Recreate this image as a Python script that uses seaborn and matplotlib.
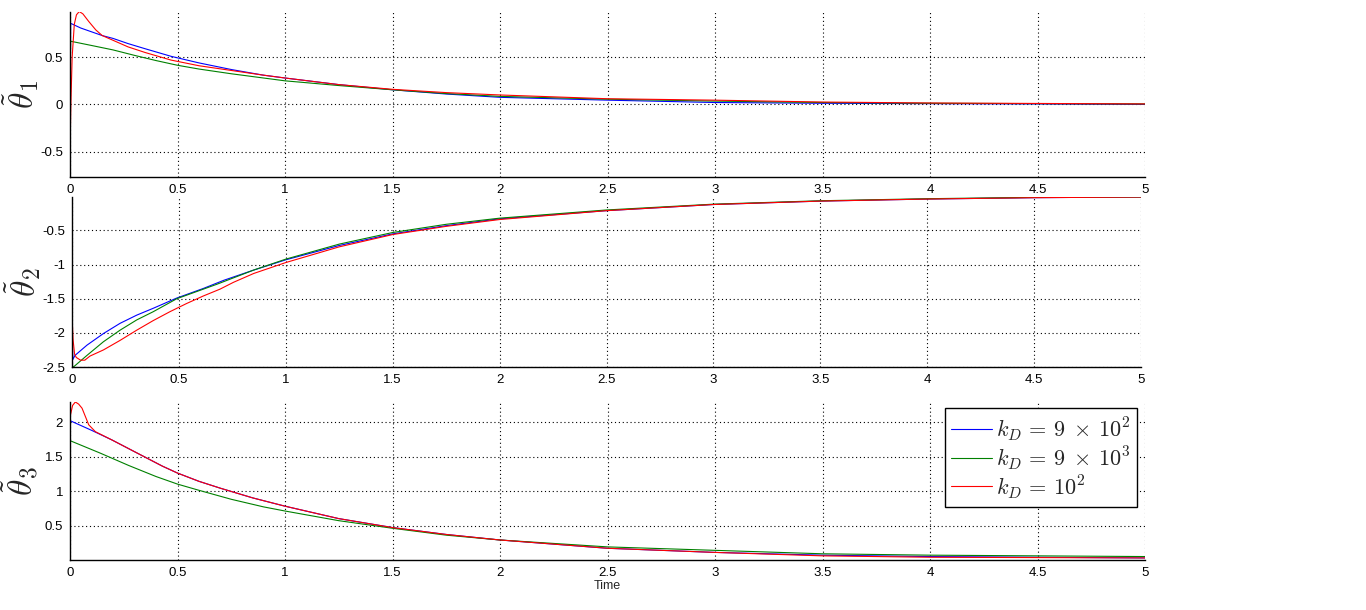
import numpy as np
import pandas as pd
import matplotlib
matplotlib.use("Agg")
import matplotlib.pyplot as plt
import seaborn as sns

# values (time in s)
series_names = ["kD_900", "kD_9000", "kD_100"]
legend_labels = [r"$k_D\,=\,9\;\times\,10^2$", r"$k_D\,=\,9\;\times\,10^3$", r"$k_D\,=\,10^2$"]
colors = ["#0000ff", "#008000", "#ff0000"]

# theta 1
t1_blue = [0, 0.003, 0.05, 0.1, 0.15, 0.2, 0.27, 0.35, 0.47, 0.6, 0.75, 0.9, 1.0, 1.25, 1.5, 1.75, 2.0, 2.5, 3.0, 3.5, 4.0, 4.5, 5.0]
v1_blue = [-0.25, 0.86, 0.81, 0.77, 0.73, 0.70, 0.645, 0.59, 0.51, 0.44, 0.37, 0.31, 0.28, 0.21, 0.155, 0.11, 0.075, 0.045, 0.02, 0.012, 0.008, 0.005, 0.0]
t1_green = [0, 0.003, 0.1, 0.2, 0.3, 0.4, 0.5, 0.6, 0.75, 0.9, 1.0, 1.25, 1.5, 1.75, 2.0, 2.5, 3.0, 3.5, 4.0, 4.5, 5.0]
v1_green = [0.19, 0.67, 0.625, 0.578, 0.52, 0.465, 0.415, 0.375, 0.325, 0.28, 0.25, 0.2, 0.155, 0.115, 0.085, 0.055, 0.035, 0.02, 0.012, 0.008, 0.005]
t1_red = [0, 0.004, 0.01, 0.02, 0.03, 0.043, 0.06, 0.087, 0.12, 0.15, 0.2, 0.27, 0.35, 0.47, 0.6, 0.75, 0.9, 1.0, 1.25, 1.5, 1.75, 2.0, 2.5, 3.0, 3.5, 4.0, 4.5, 5.0]
v1_red = [-0.5, 0.0, 0.5, 0.85, 0.95, 0.985, 0.96, 0.88, 0.79, 0.73, 0.68, 0.61, 0.55, 0.47, 0.41, 0.36, 0.31, 0.28, 0.21, 0.16, 0.125, 0.1, 0.06, 0.045, 0.025, 0.015, 0.01, 0.005]

# theta 2
t2_blue = [0, 0.004, 0.014, 0.07, 0.147, 0.225, 0.303, 0.38, 0.49, 0.614, 0.71, 0.85, 1.0, 1.25, 1.5, 1.75, 2.0, 2.5, 3.0, 3.5, 4.0, 4.5, 5.0]
v2_blue = [-1.94, -2.39, -2.33, -2.18, -2.01, -1.86, -1.74, -1.64, -1.49, -1.35, -1.23, -1.08, -0.93, -0.72, -0.55, -0.43, -0.33, -0.21, -0.12, -0.07, -0.04, -0.02, -0.01]
t2_green = [0, 0.003, 0.07, 0.147, 0.225, 0.303, 0.38, 0.49, 0.614, 0.676, 0.85, 1.0, 1.25, 1.5, 1.75, 2.0, 2.5, 3.0, 3.5, 4.0, 4.5, 5.0]
v2_green = [-2.25, -2.51, -2.33, -2.13, -1.96, -1.81, -1.69, -1.5, -1.36, -1.29, -1.08, -0.92, -0.7, -0.53, -0.41, -0.32, -0.2, -0.115, -0.065, -0.035, -0.015, -0.01]
t2_red = [0, 0.005, 0.012, 0.02, 0.04, 0.06, 0.084, 0.147, 0.225, 0.303, 0.38, 0.458, 0.536, 0.614, 0.692, 0.755, 0.85, 1.0, 1.25, 1.5, 1.75, 2.0, 2.5, 3.0, 3.5, 4.0, 4.5, 5.0]
v2_red = [-1.74, -2.1, -2.31, -2.36, -2.4, -2.4, -2.34, -2.25, -2.11, -1.96, -1.82, -1.69, -1.57, -1.46, -1.36, -1.26, -1.13, -0.97, -0.74, -0.56, -0.44, -0.34, -0.21, -0.12, -0.07, -0.04, -0.02, -0.01]

# theta 3
t3_blue = [0, 0.1, 0.195, 0.3, 0.43, 0.5, 0.6, 0.7, 0.85, 1.0, 1.25, 1.5, 1.75, 2.0, 2.5, 3.0, 3.5, 4.0, 4.5, 5.0]
v3_blue = [2.02, 1.88, 1.74, 1.57, 1.36, 1.26, 1.14, 1.04, 0.9, 0.78, 0.6, 0.47, 0.37, 0.29, 0.17, 0.11, 0.07, 0.05, 0.04, 0.03]
t3_green = [0, 0.14, 0.273, 0.4, 0.5, 0.6, 0.75, 0.9, 1.0, 1.25, 1.5, 1.75, 2.0, 2.5, 3.0, 3.5, 4.0, 4.5, 5.0]
v3_green = [1.73, 1.55, 1.37, 1.21, 1.10, 1.01, 0.88, 0.77, 0.71, 0.57, 0.46, 0.36, 0.29, 0.19, 0.14, 0.09, 0.07, 0.06, 0.05]
t3_red = [0, 0.012, 0.025, 0.04, 0.056, 0.087, 0.118, 0.195, 0.3, 0.43, 0.5, 0.6, 0.7, 0.85, 1.0, 1.25, 1.5, 1.75, 2.0, 2.5, 3.0, 3.5, 4.0, 4.5, 5.0]
v3_red = [2.07, 2.24, 2.29, 2.26, 2.2, 1.96, 1.86, 1.74, 1.57, 1.36, 1.26, 1.14, 1.04, 0.9, 0.78, 0.6, 0.47, 0.37, 0.29, 0.17, 0.11, 0.06, 0.04, 0.035, 0.03]

x_ticks = [0, 0.5, 1, 1.5, 2, 2.5, 3, 3.5, 4, 4.5, 5]
x_tick_labels = ["0", "0.5", "1", "1.5", "2", "2.5", "3", "3.5", "4", "4.5", "5"]
y_ticks = [[-0.5, 0, 0.5], [-2.5, -2, -1.5, -1, -0.5], [0.5, 1, 1.5, 2]]
y_tick_labels = [["-0.5", "0", "0.5"], ["-2.5", "-2", "-1.5", "-1", "-0.5"], ["0.5", "1", "1.5", "2"]]
y_lims = [(-0.77, 0.98), (-2.5, -0.01), (0.0, 2.29)]
y_labels = [r"$\tilde{\theta}_1$", r"$\tilde{\theta}_2$", r"$\tilde{\theta}_3$"]

panels = [
    [(t1_blue, v1_blue), (t1_green, v1_green), (t1_red, v1_red)],
    [(t2_blue, v2_blue), (t2_green, v2_green), (t2_red, v2_red)],
    [(t3_blue, v3_blue), (t3_green, v3_green), (t3_red, v3_red)],
]

sns.set_style("white")
plt.rcParams["font.family"] = ["Liberation Sans", "DejaVu Sans"]
plt.rcParams["mathtext.fontset"] = "cm"

fig = plt.figure(figsize=(13.66, 6.1), dpi=100)
rects = [
    [70 / 1366, 1 - 177 / 610, 1075 / 1366, 165 / 610],
    [72 / 1366, 1 - 367 / 610, 1069 / 1366, 170 / 610],
    [70 / 1366, 1 - 560 / 610, 1075 / 1366, 158 / 610],
]

palette = dict(zip(series_names, colors))

for i, rect in enumerate(rects):
    ax = fig.add_axes(rect)
    frames = []
    for name, (t, v) in zip(series_names, panels[i]):
        frames.append(pd.DataFrame({"t": t, "v": v, "series": name}))
    df = pd.concat(frames, ignore_index=True)
    sns.lineplot(data=df, x="t", y="v", hue="series", hue_order=series_names,
                 palette=palette, estimator=None, sort=False, linewidth=0.8,
                 legend=False, ax=ax)

    ax.set_xlim(0, 5)
    ax.set_ylim(*y_lims[i])
    ax.set_xticks(x_ticks)
    ax.set_xticklabels(x_tick_labels)
    ax.set_yticks(y_ticks[i])
    ax.set_yticklabels(y_tick_labels[i])
    ax.tick_params(direction="in", length=7.5, width=0.9, labelsize=9.5,
                   colors="black", pad=5)
    ax.grid(True, color="black", linestyle=(0, (1, 2.5)), linewidth=0.8)
    for s in ["top", "right"]:
        ax.spines[s].set_visible(False)
    for s in ["left", "bottom"]:
        ax.spines[s].set_color("black")
        ax.spines[s].set_linewidth(1.0)
    ax.set_xlabel("")
    ax.set_ylabel(y_labels[i], fontsize=24, rotation=90)
    ax.yaxis.set_label_coords(-0.027, 0.5)

    if i == 2:
        ax.set_xlabel("Time", fontsize=9, labelpad=1)
        leg = ax.legend(ax.get_lines()[:3], legend_labels, loc="upper right",
                        bbox_to_anchor=(0.9925, 0.96), fontsize=16, frameon=True,
                        fancybox=False, framealpha=1, edgecolor="black",
                        handlelength=1.85, handletextpad=0.15, labelspacing=0.05,
                        borderpad=0.3, borderaxespad=0)
        leg.get_frame().set_linewidth(1.0)

fig.savefig("out.png", dpi=100, facecolor="white")
